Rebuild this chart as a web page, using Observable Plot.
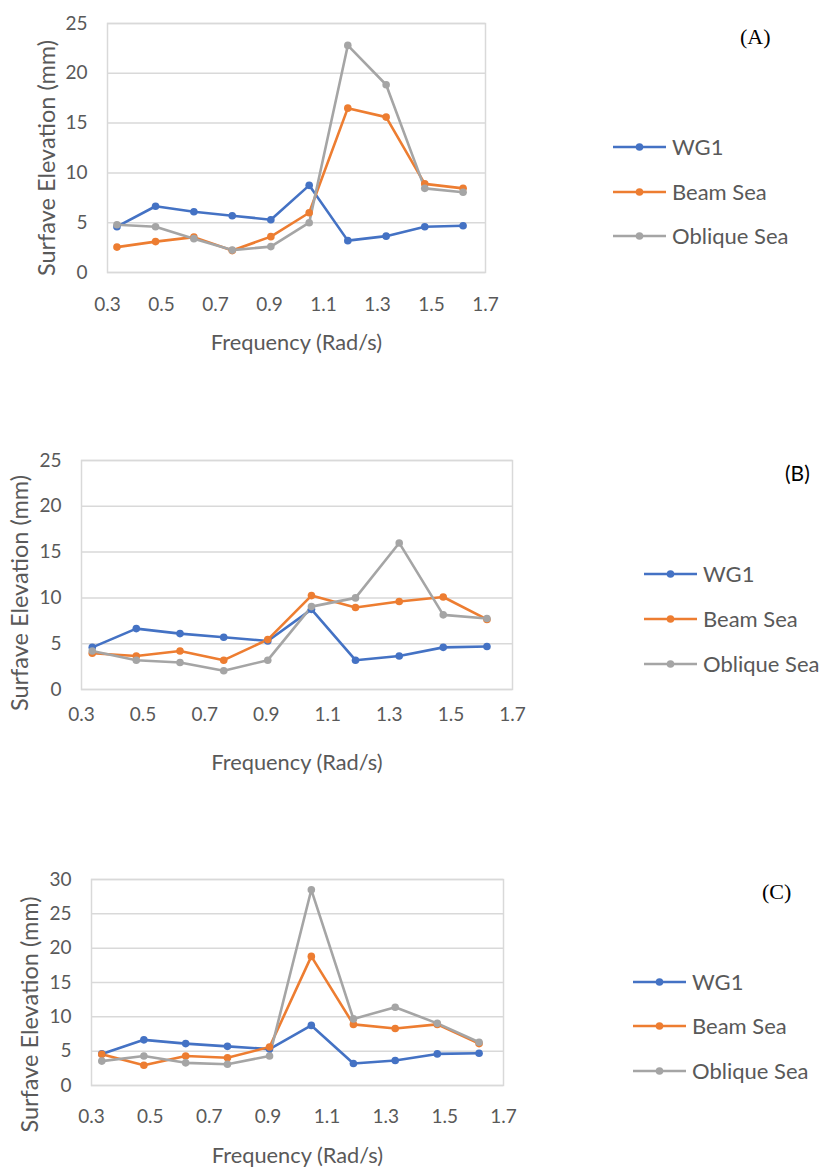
<!DOCTYPE html>
<html>
<head>
<meta charset="utf-8">
<script src="https://cdn.jsdelivr.net/npm/d3@7"></script>
<script src="https://cdn.jsdelivr.net/npm/@observablehq/plot@0.6"></script>
<style>
  body { margin: 0; background: #fff; }
  #page { position: relative; width: 820px; height: 1170px; overflow: hidden; font-family: Lato, "Open Sans", sans-serif; color: #595959; }
  .panel { position: absolute; left: 0; }
  .legend { position: absolute; font-size: 22px; color: #595959; }
  .legend .item { position: absolute; left: 0; white-space: nowrap; height: 24px; line-height: 24px; }
  .legend svg { position: absolute; left: 0; top: 0; }
  .legend span { position: absolute; left: 59px; top: 0; }
  .tag { position: absolute; font-size: 22px; color: #000; white-space: nowrap; line-height: 24px; }
</style>
</head>
<body>
<div id="page"></div>
<script>
// ---- data ----
const frequency = [0.335, 0.478, 0.620, 0.762, 0.905, 1.047, 1.190, 1.332, 1.475, 1.617];
const seriesNames = ["WG1", "Beam Sea", "Oblique Sea"];
const seriesColors = ["#4472C4", "#ED7D31", "#A5A5A5"];
const xTicks = [0.3, 0.5, 0.7, 0.9, 1.1, 1.3, 1.5, 1.7];

const wg1 = [4.6, 6.65, 6.1, 5.7, 5.3, 8.75, 3.2, 3.65, 4.6, 4.7];

const beamA = [2.55, 3.1, 3.55, 2.2, 3.6, 6.0, 16.5, 15.6, 8.9, 8.45];
const obliqueA = [4.8, 4.6, 3.4, 2.25, 2.6, 5.0, 22.8, 18.85, 8.45, 8.05];

const beamB = [3.95, 3.65, 4.2, 3.2, 5.45, 10.25, 8.95, 9.6, 10.1, 7.65];
const obliqueB = [4.2, 3.2, 2.95, 2.05, 3.2, 9.05, 10.0, 16.0, 8.15, 7.75];

const beamC = [4.55, 2.95, 4.3, 4.05, 5.6, 18.8, 8.9, 8.3, 8.9, 6.1];
const obliqueC = [3.55, 4.3, 3.3, 3.1, 4.3, 28.5, 9.7, 11.4, 9.05, 6.3];

const yTicksAB = [0, 5, 10, 15, 20, 25];
const yTicksC = [0, 5, 10, 15, 20, 25, 30];

const panelLabels = ["(A)", "(B)", "(C)"];
const xTitle = "Frequency (Rad/s)";
const yTitle = "Surfave Elevation (mm)";

// ---- layout ----
const panels = [
  { tag: panelLabels[0], serif: true, series: [wg1, beamA, obliqueA], yMax: 25, yTicks: yTicksAB,
    top: 0, width: 520, marginLeft: 107, marginRight: 35, marginTop: 23, plotH: 249, marginBottom: 88,
    xLabPad: 25, xTitleDy: 77, yTitleDx: -60, yTitleDy: 10,
    legend: { left: 613, tops: [147, 192, 236] }, tagPos: { left: 740, top: 37 } },
  { tag: panelLabels[1], serif: false, series: [wg1, beamB, obliqueB], yMax: 25, yTicks: yTicksAB,
    top: 440, width: 540, marginLeft: 81, marginRight: 28, marginTop: 20, plotH: 229, marginBottom: 88,
    xLabPad: 18, xTitleDy: 80, yTitleDx: -61, yTitleDy: 18,
    legend: { left: 644, tops: [574, 619, 664] }, tagPos: { left: 785, top: 473 } },
  { tag: panelLabels[2], serif: true, series: [wg1, beamC, obliqueC], yMax: 30, yTicks: yTicksC,
    top: 860, width: 540, marginLeft: 91, marginRight: 37, marginTop: 19, plotH: 206, marginBottom: 85,
    xLabPad: 24, xTitleDy: 77, yTitleDx: -61, yTitleDy: 32,
    legend: { left: 633, tops: [982, 1026, 1071] }, tagPos: { left: 762, top: 892 } }
];

const page = document.getElementById("page");

for (const p of panels) {
  const rows = [];
  p.series.forEach((vals, si) => {
    vals.forEach((v, i) => rows.push({ series: seriesNames[si], f: frequency[i], v }));
  });

  const chart = Plot.plot({
    width: p.width,
    height: p.marginTop + p.plotH + p.marginBottom,
    marginLeft: p.marginLeft,
    marginRight: p.marginRight,
    marginTop: p.marginTop,
    marginBottom: p.marginBottom,
    style: { fontFamily: "Lato, 'Open Sans', sans-serif", fontSize: "19px", color: "#595959", background: "transparent", overflow: "visible" },
    x: { domain: [0.3, 1.7] },
    y: { domain: [0, p.yMax] },
    color: { domain: seriesNames, range: seriesColors },
    marks: [
      Plot.gridY(p.yTicks, { stroke: "#d9d9d9", strokeOpacity: 1, strokeWidth: 1.5 }),
      Plot.frame({ stroke: "#d9d9d9", strokeWidth: 1.5 }),
      Plot.axisY(p.yTicks, { tickSize: 0, tickPadding: 20, label: null, fill: "#595959", fontSize: 19 }),
      Plot.axisX(xTicks, { tickSize: 0, tickPadding: p.xLabPad, label: null, fill: "#595959", fontSize: 19, tickFormat: d => d.toFixed(1) }),
      Plot.line(rows, { x: "f", y: "v", z: "series", stroke: "series", strokeWidth: 2.6 }),
      Plot.dot(rows, { x: "f", y: "v", fill: "series", r: 3.8 }),
      Plot.text([xTitle], { text: d => d, frameAnchor: "bottom", textAnchor: "middle", dy: p.xTitleDy, fill: "#595959", fontSize: 21.8 }),
      Plot.text([yTitle], { text: d => d, frameAnchor: "left", textAnchor: "middle", rotate: -90, dx: p.yTitleDx, dy: p.yTitleDy, fill: "#595959", fontSize: 23.5 })
    ]
  });
  chart.classList.add("panel");
  chart.style.top = p.top + "px";
  page.appendChild(chart);

  // legend
  const lg = document.createElement("div");
  lg.className = "legend";
  lg.style.left = p.legend.left + "px";
  lg.style.top = "0px";
  seriesNames.forEach((name, i) => {
    const it = document.createElement("div");
    it.className = "item";
    it.style.top = (p.legend.tops[i] - 12) + "px";
    it.innerHTML = `<svg width="54" height="24"><line x1="0" x2="53" y1="12" y2="12" stroke="${seriesColors[i]}" stroke-width="2.6"/><circle cx="26.5" cy="12" r="3.8" fill="${seriesColors[i]}"/></svg><span>${name}</span>`;
    lg.appendChild(it);
  });
  page.appendChild(lg);

  const tag = document.createElement("div");
  tag.className = "tag";
  tag.textContent = p.tag;
  tag.style.left = p.tagPos.left + "px";
  tag.style.top = (p.tagPos.top - 12) + "px";
  tag.style.fontFamily = p.serif ? "'Liberation Serif', 'DejaVu Serif', serif" : "Lato, 'Open Sans', sans-serif";
  if (!p.serif) tag.style.fontSize = "21px";
  page.appendChild(tag);
}
</script>
</body>
</html>
